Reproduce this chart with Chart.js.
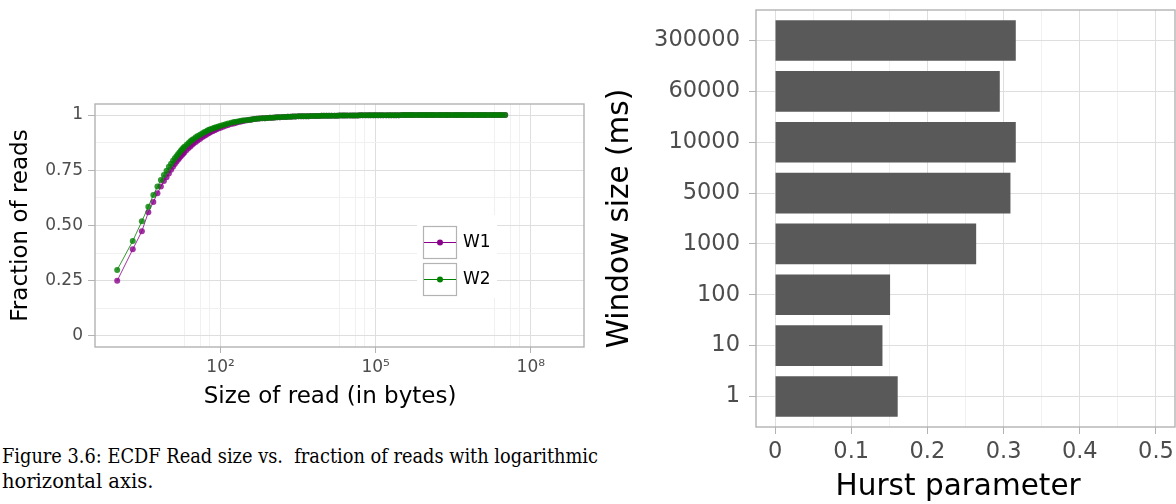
<!DOCTYPE html>
<html><head><meta charset="utf-8">
<script src="https://cdn.jsdelivr.net/npm/chart.js@4.4.1/dist/chart.umd.min.js"></script>
<style>
html,body{margin:0;padding:0;background:#fff;width:1176px;height:504px;overflow:hidden;position:relative;}
#c1{position:absolute;left:0;top:60px;}
#c2{position:absolute;left:600px;top:0;}
.cap{position:absolute;left:2px;font-family:"DejaVu Serif",serif;font-size:19.5px;line-height:24.5px;color:#000;white-space:nowrap;}
#cap1{top:445.3px;transform-origin:0 0;}
#cap2{top:469.8px;}
</style></head><body>
<canvas id="c1" width="600" height="360"></canvas>
<canvas id="c2" width="576" height="504"></canvas>
<div class="cap" id="cap1">Figure 3.6: ECDF Read size vs.&nbsp; fraction of reads with logarithmic</div>
<div class="cap" id="cap2">horizontal axis.</div>
<script>
// ---------- Left chart data (ECDF of read sizes) ----------
const readSizes = [1,2,3,4,5,6,7,8,9,10,11,12,13,14,15,16,17,18,19,20,
  22,24,26,28,30,33,36,40,44,48,52,56,60,64,70,76,82,90,
  100,112,125,140,160,180,200,225,250,280,320,360,400,450,500,560,640,720,800,900,
  1000,1120,1250,1400,1600,1800,2000,2250,2500,2800,3200,3600,4000,4500,5000,5600,6400,7200,8000,9000,
  10000,11200,12500,14000,16000,18000,20000,22500,25000,28000,32000,36000,40000,45000,50000,56000,64000,72000,80000,90000,
  100000,112000,125000,140000,160000,180000,200000,225000,250000,280000,320000,360000,400000,450000,500000,560000,640000,720000,800000,900000,
  1000000,1120000,1250000,1400000,1600000,1800000,2000000,2250000,2500000,2800000,3200000,3600000,4000000,4500000,5000000,5600000,6400000,7200000,8000000,9000000,
  10000000,11200000,12500000,14000000,16000000,18000000,20000000,22500000,25000000,28000000,32000000];
const w1Fraction = [0.250,0.392,0.474,0.560,0.606,0.646,0.676,0.701,0.718,0.735,0.752,0.766,0.778,0.789,0.798,0.806,0.813,0.820,0.826,0.832,
  0.842,0.851,0.858,0.865,0.871,0.878,0.885,0.892,0.899,0.905,0.910,0.915,0.919,0.923,0.927,0.931,0.935,0.939,
  0.943,0.947,0.951,0.955,0.959,0.962,0.965,0.968,0.971,0.973,0.976,0.978,0.980,0.982,0.983,0.984,0.985,0.986,0.987,0.988,
  0.988,0.989,0.990,0.990,0.991,0.991,0.992,0.992,0.993,0.993,0.994,0.994,0.995,0.995,0.995,0.996,0.996,0.996,0.996,0.997,
  0.997,0.997,0.997,0.997,0.997,0.997,0.998,0.998,0.998,0.998,0.998,0.998,0.998,0.998,0.999,0.999,0.999,0.999,0.999,0.999,
  0.999,0.999,0.999,0.999,0.999,0.999,0.999,0.999,0.999,0.999,1,1,1,1,1,1,1,1,1,1,
  1,1,1,1,1,1,1,1,1,1,1,1,1,1,1,1,1,1,1,1,
  1,1,1,1,1,1,1,1,1,1,1];
const w2Fraction = [0.299,0.430,0.519,0.585,0.638,0.676,0.706,0.729,0.748,0.766,0.780,0.793,0.804,0.814,0.823,0.831,0.838,0.845,0.851,0.856,
  0.866,0.874,0.881,0.887,0.892,0.899,0.905,0.911,0.917,0.922,0.926,0.930,0.933,0.936,0.939,0.942,0.945,0.948,
  0.951,0.955,0.958,0.962,0.965,0.968,0.970,0.972,0.974,0.976,0.977,0.979,0.980,0.982,0.983,0.984,0.985,0.986,0.987,0.988,
  0.988,0.989,0.990,0.990,0.991,0.991,0.992,0.992,0.993,0.993,0.994,0.994,0.995,0.995,0.995,0.996,0.996,0.996,0.996,0.997,
  0.997,0.997,0.997,0.997,0.997,0.997,0.998,0.998,0.998,0.998,0.998,0.998,0.998,0.998,0.999,0.999,0.999,0.999,0.999,0.999,
  0.999,0.999,0.999,0.999,0.999,0.999,0.999,0.999,0.999,0.999,1,1,1,1,1,1,1,1,1,1,
  1,1,1,1,1,1,1,1,1,1,1,1,1,1,1,1,1,1,1,1,
  1,1,1,1,1,1,1,1,1,1,1];
const seriesNames = ['W1','W2'];
const xMajorTicks = [100, 100000, 100000000];
const xMajorLabels = ['10\u00B2','10\u2075','10\u2078'];
const xMinorTicks = [20,40,60,20000,40000,60000,20000000,40000000,60000000];
const yMajorTicks = [0,0.25,0.5,0.75,1];
const yMajorLabels = ['0','0.25','0.50','0.75','1'];
const yMinorTicks = [0.125,0.375,0.625,0.875];

// ---------- Right chart data (Hurst parameter by window size) ----------
const windowSizes = ['1','10','100','1000','5000','10000','60000','300000'];
const hurstValues = [0.161,0.141,0.151,0.264,0.309,0.316,0.295,0.316];
const hurstMajorTicks = [0,0.1,0.2,0.3,0.4,0.5];
const hurstMajorLabels = ['0','0.1','0.2','0.3','0.4','0.5'];
const hurstMinorTicks = [0.05,0.15,0.25,0.35,0.45];

// ---------- Caption fitting (justify first line to 596px) ----------
(function fitCaption() {
  const el = document.getElementById('cap1');
  const w = el.getBoundingClientRect().width;
  const target = 596;
  if (w > target) {
    el.style.transform = 'scaleX(' + (target / w) + ')';
  } else {
    el.style.wordSpacing = ((target - w) / 10) + 'px';
  }
})();

// ---------- Styling ----------
Chart.defaults.font.family = 'DejaVu Sans';
Chart.defaults.color = '#4d4d4d';
const GRID_MAJOR = '#dedede', GRID_MINOR = '#f0f0f0', BORDER = '#b3b3b3', TICK = '#b3b3b3';
const W1_COLOR = 'rgba(139,0,139,0.8)', W2_COLOR = 'rgba(0,128,0,0.8)';
const W1_SOLID = 'rgb(139,0,139)', W2_SOLID = 'rgb(0,128,0)';

const panelBorder = {
  id: 'panelBorder',
  afterDraw(chart) {
    const {ctx, chartArea: a} = chart;
    ctx.save();
    ctx.strokeStyle = BORDER; ctx.lineWidth = 1.4;
    ctx.strokeRect(a.left, a.top, a.right - a.left, a.bottom - a.top);
    ctx.restore();
  }
};

const boxLegend = {
  id: 'boxLegend',
  afterDraw(chart) {
    const ctx = chart.ctx;
    ctx.save();
    ctx.fillStyle = '#fff';
    ctx.fillRect(417, 155, 80, 83);
    const cols = [W1_SOLID, W2_SOLID];
    const tops = [166, 203];
    seriesNames.forEach((name, i) => {
      const t = tops[i];
      ctx.strokeStyle = BORDER; ctx.lineWidth = 1.2;
      ctx.strokeRect(423.5, t + 0.5, 33, 32);
      ctx.strokeStyle = cols[i]; ctx.lineWidth = 1;
      ctx.beginPath(); ctx.moveTo(424, t + 16.5); ctx.lineTo(456, t + 16.5); ctx.stroke();
      ctx.fillStyle = cols[i];
      ctx.beginPath(); ctx.arc(440, t + 16.5, 3, 0, Math.PI * 2); ctx.fill();
      ctx.fillStyle = '#000';
      ctx.font = '17px "DejaVu Sans"';
      ctx.textBaseline = 'middle'; ctx.textAlign = 'left';
      ctx.fillText(name, 463, t + 17);
    });
    ctx.restore();
  }
};

const isIn = (arr, v) => arr.some(a => Math.abs(a - v) < 1e-9 * Math.max(1, Math.abs(a)));

// ---------- Left chart ----------
new Chart(document.getElementById('c1'), {
  type: 'line',
  data: {
    datasets: [
      { label: seriesNames[0], data: readSizes.map((s, i) => ({x: s, y: w1Fraction[i]})),
        borderColor: W1_COLOR, backgroundColor: W1_COLOR, pointBackgroundColor: W1_COLOR,
        borderWidth: 1, pointRadius: 3, pointBorderWidth: 0, tension: 0, order: 1 },
      { label: seriesNames[1], data: readSizes.map((s, i) => ({x: s, y: w2Fraction[i]})),
        borderColor: W2_COLOR, backgroundColor: W2_COLOR, pointBackgroundColor: W2_COLOR,
        borderWidth: 1, pointRadius: 3, pointBorderWidth: 0, tension: 0, order: 0 }
    ]
  },
  options: {
    responsive: false, animation: false, devicePixelRatio: 1,
    layout: { padding: { top: 44, right: 16, left: 0, bottom: 0 } },
    plugins: { legend: { display: false }, tooltip: { enabled: false } },
    scales: {
      x: {
        type: 'logarithmic', min: 0.372, max: 1.07e9,
        afterBuildTicks: s => { s.ticks = xMinorTicks.concat(xMajorTicks).sort((a,b)=>a-b).map(v => ({value: v})); },
        afterFit: s => { s.height = 73; s.paddingLeft = 0; s.paddingRight = 0; },
        ticks: { autoSkip: false, maxRotation: 0, padding: 4, color: '#4d4d4d', font: { size: 17 },
          callback: v => { const i = xMajorTicks.findIndex(m => Math.abs(m - v) < 1e-6 * m); return i >= 0 ? xMajorLabels[i] : ''; } },
        grid: { color: c => isIn(xMajorTicks, c.tick.value) ? GRID_MAJOR : GRID_MINOR,
          tickColor: c => isIn(xMajorTicks, c.tick.value) ? TICK : 'rgba(0,0,0,0)', tickLength: 6, lineWidth: 1 },
        border: { display: false },
        title: { display: true, text: 'Size of read (in bytes)\u2002\u00A0', color: '#000', font: { size: 23, lineHeight: 1.1 }, padding: { top: 0, bottom: 10 } }
      },
      y: {
        type: 'linear', min: -0.05, max: 1.05,
        afterBuildTicks: s => { s.ticks = yMinorTicks.concat(yMajorTicks).sort((a,b)=>a-b).map(v => ({value: v})); },
        afterFit: s => { s.width = 95; },
        ticks: { autoSkip: false, padding: 5, color: '#4d4d4d', font: { size: 17 },
          callback: v => { const i = yMajorTicks.findIndex(m => Math.abs(m - v) < 1e-9); return i >= 0 ? yMajorLabels[i] : ''; } },
        grid: { color: c => isIn(yMajorTicks, c.tick.value) ? GRID_MAJOR : GRID_MINOR,
          tickColor: c => isIn(yMajorTicks, c.tick.value) ? TICK : 'rgba(0,0,0,0)', tickLength: 7, lineWidth: 1 },
        border: { display: false },
        title: { display: true, text: 'Fraction of reads', color: '#000', font: { size: 23, lineHeight: 1.1 }, padding: { top: 8, bottom: 0 } }
      }
    }
  },
  plugins: [panelBorder, boxLegend]
});

// ---------- Right chart ----------
new Chart(document.getElementById('c2'), {
  type: 'bar',
  data: {
    datasets: [{
      label: 'Hurst parameter',
      data: windowSizes.map((w, i) => ({x: hurstValues[i], y: i})),
      backgroundColor: '#595959', borderWidth: 0,
      barPercentage: 0.8, categoryPercentage: 1.0
    }]
  },
  options: {
    indexAxis: 'y',
    responsive: false, animation: false, devicePixelRatio: 1,
    layout: { padding: { top: 10, right: 1, left: 0, bottom: 0 } },
    plugins: { legend: { display: false }, tooltip: { enabled: false } },
    scales: {
      x: {
        type: 'linear', min: -0.025, max: 0.525,
        afterBuildTicks: s => { s.ticks = hurstMinorTicks.concat(hurstMajorTicks).sort((a,b)=>a-b).map(v => ({value: v})); },
        afterFit: s => { s.height = 77; s.paddingLeft = 0; s.paddingRight = 0; },
        ticks: { autoSkip: false, maxRotation: 0, padding: 5, color: '#4d4d4d', font: { size: 22.5 },
          callback: v => { const i = hurstMajorTicks.findIndex(m => Math.abs(m - v) < 1e-9); return i >= 0 ? hurstMajorLabels[i] : ''; } },
        grid: { color: c => isIn(hurstMajorTicks, c.tick.value) ? GRID_MAJOR : GRID_MINOR,
          tickColor: c => isIn(hurstMajorTicks, c.tick.value) ? TICK : 'rgba(0,0,0,0)', tickLength: 7, lineWidth: 1, offset: false },
        border: { display: false },
        title: { display: true, text: 'Hurst parameter\u2002', color: '#000', font: { size: 29.5, lineHeight: 1.1 }, padding: { top: 0, bottom: 0 } }
      },
      y: {
        type: 'linear', min: -0.6, max: 7.6, offset: false,
        afterBuildTicks: s => { s.ticks = windowSizes.map((w, i) => ({value: i})); },
        afterFit: s => { s.width = 156; s.paddingTop = 0; s.paddingBottom = 0; },
        ticks: { autoSkip: false, padding: 9, color: '#4d4d4d', font: { size: 22.5 },
          callback: v => windowSizes[Math.round(v)] },
        grid: { color: GRID_MAJOR, tickColor: TICK, tickLength: 7, lineWidth: 1, offset: false },
        border: { display: false },
        title: { display: true, text: 'Window size (ms)', color: '#000', font: { size: 29.5, lineHeight: 1.1 }, padding: { top: 4, bottom: 0 } }
      }
    }
  },
  plugins: [panelBorder]
});
</script>
</body></html>
